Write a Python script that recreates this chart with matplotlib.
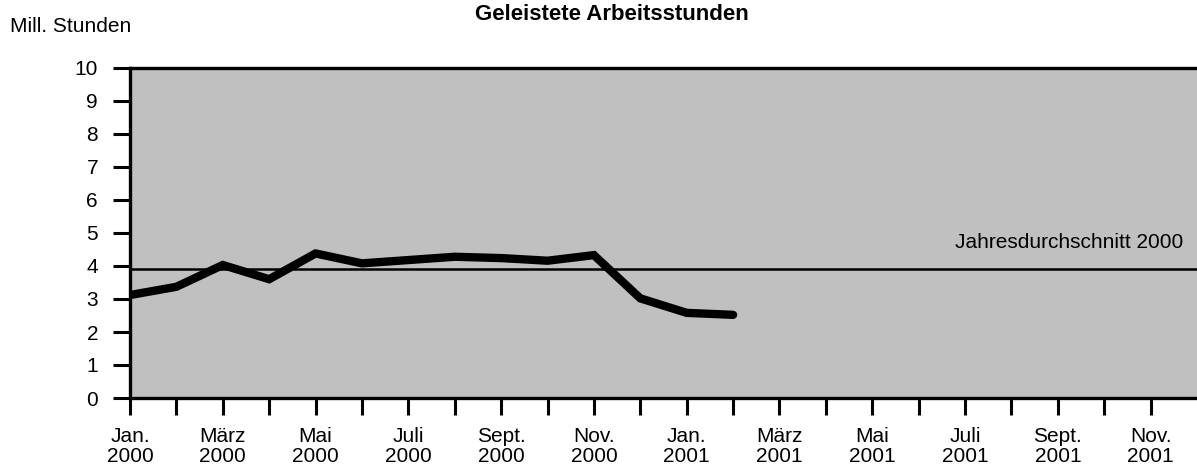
import matplotlib
matplotlib.use("Agg")
import matplotlib.pyplot as plt

# ---- data ----
months_values = [3.12, 3.37, 4.03, 3.6, 4.38, 4.08, 4.18, 4.28, 4.24, 4.16, 4.33, 3.02, 2.58, 2.52]
avg_2000 = 3.9
tick_labels = ["Jan.\n2000", "März\n2000", "Mai\n2000", "Juli\n2000", "Sept.\n2000", "Nov.\n2000",
               "Jan.\n2001", "März\n2001", "Mai\n2001", "Juli\n2001", "Sept.\n2001", "Nov.\n2001"]
title = "Geleistete Arbeitsstunden"
ylabel = "Mill. Stunden"
avg_label = "Jahresdurchschnitt 2000"

plt.rcParams['font.family'] = ['Liberation Sans', 'DejaVu Sans']

fig = plt.figure(figsize=(11.97, 4.75), dpi=100)
ax = fig.add_axes([130/1197, 1-398/475, 1-130/1197, (398-68)/475])
ax.set_facecolor('#c0c0c0')

x = list(range(len(months_values)))
ax.plot(x, months_values, color='black', lw=6, solid_capstyle='round', solid_joinstyle='miter', zorder=3)
ax.axhline(avg_2000, color='black', lw=1.8, zorder=2)
ax.text(22.7, avg_2000 + 0.8, avg_label, ha='right', va='center', fontsize=15, color='black')

ax.set_xlim(0, 23)
ax.set_ylim(0, 10)
ax.set_yticks(range(0, 11))
ax.set_yticklabels([str(i) for i in range(0, 11)], fontsize=15)
ax.set_xticks(range(0, 23, 2))
ax.set_xticklabels(tick_labels, fontsize=15, linespacing=1.05)
ax.set_xticks(range(0, 23), minor=True)

ax.tick_params(axis='y', which='major', length=12, width=2.2, pad=11, direction='out')
ax.tick_params(axis='x', which='both', length=12, width=2.2, pad=9, direction='out')

for s in ['left', 'bottom', 'top']:
    ax.spines[s].set_linewidth(2.4)
ax.spines['right'].set_visible(False)

fig.text(612/1197, 1-15/475, title, ha='center', va='center', fontsize=16, fontweight='bold')
fig.text(10/1197, 1-27/475, ylabel, ha='left', va='center', fontsize=15)

fig.savefig('out.png', dpi=100)
